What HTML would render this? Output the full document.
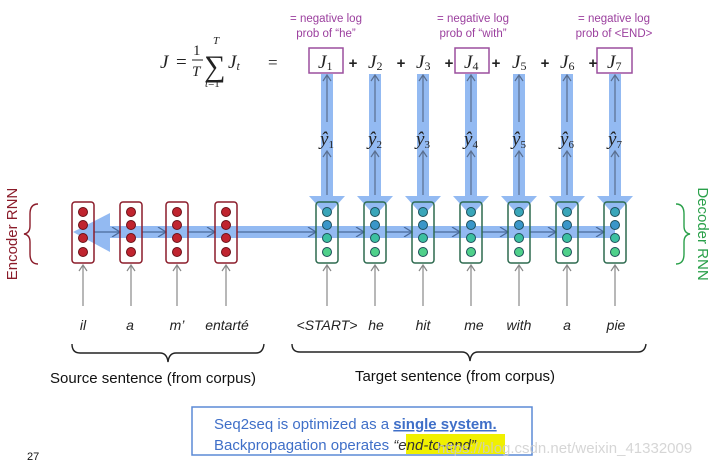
<!DOCTYPE html>
<html><head><meta charset="utf-8"><style>
body{margin:0;background:#fff;}
svg{display:block;font-family:"Liberation Sans",sans-serif;}
.m{font-family:"Liberation Serif",serif;font-style:italic;font-size:19px;fill:#222;}
.p{font-size:11.5px;fill:#9b3f9e;text-anchor:middle;}
.w{font-size:14px;font-style:italic;fill:#222;text-anchor:middle;}
</style></head><body>
<svg width="715" height="466" viewBox="0 0 715 466">
<defs>
<marker id="ga" markerWidth="8" markerHeight="8" refX="4" refY="1" orient="auto-start-reverse" markerUnits="userSpaceOnUse">
<path d="M0,6 L4,0 L8,6" fill="none" stroke="#777" stroke-width="1.2"/></marker>
<marker id="ba" markerWidth="10" markerHeight="10" refX="9" refY="5" orient="auto" markerUnits="userSpaceOnUse">
<path d="M1,0 L9,5 L1,10" fill="none" stroke="#4a6a9a" stroke-width="1.3"/></marker>
</defs>
<!-- blue backprop bands -->
<g fill="#6fa3ee" opacity="0.75">
<rect x="100" y="226" width="515" height="12"/>
<polygon points="73,232 110,213 110,252"/>
<g id="vb">
</g>
</g>
<g fill="#6fa3ee" opacity="0.75">
<rect x="321" y="74" width="12" height="124"/><polygon points="309,196 345,196 327,216"/>
<rect x="369" y="74" width="12" height="124"/><polygon points="357,196 393,196 375,216"/>
<rect x="417" y="74" width="12" height="124"/><polygon points="405,196 441,196 423,216"/>
<rect x="465" y="74" width="12" height="124"/><polygon points="453,196 489,196 471,216"/>
<rect x="513" y="74" width="12" height="124"/><polygon points="501,196 537,196 519,216"/>
<rect x="561" y="74" width="12" height="124"/><polygon points="549,196 585,196 567,216"/>
<rect x="609" y="74" width="12" height="124"/><polygon points="597,196 633,196 615,216"/>
</g>
<!-- horizontal arrows -->
<g stroke="#4a6a9a" stroke-width="1.3" marker-end="url(#ba)">
<line x1="94" y1="232" x2="120" y2="232"/><line x1="142" y1="232" x2="166" y2="232"/>
<line x1="188" y1="232" x2="215" y2="232"/><line x1="237" y1="232" x2="316" y2="232"/>
<line x1="338" y1="232" x2="364" y2="232"/><line x1="386" y1="232" x2="412" y2="232"/>
<line x1="434" y1="232" x2="460" y2="232"/><line x1="482" y1="232" x2="508" y2="232"/>
<line x1="530" y1="232" x2="556" y2="232"/><line x1="578" y1="232" x2="604" y2="232"/>
</g>
<!-- encoder cells -->
<g stroke="#8b1c2a" stroke-width="1.5" fill="none">
<rect x="72" y="202" width="22" height="61" rx="3"/><rect x="120" y="202" width="22" height="61" rx="3"/>
<rect x="166" y="202" width="22" height="61" rx="3"/><rect x="215" y="202" width="22" height="61" rx="3"/>
</g>
<g fill="#c0242f" stroke="#6b1018" stroke-width="1">
<circle cx="83" cy="212" r="4.5"/><circle cx="83" cy="225" r="4.5"/><circle cx="83" cy="238" r="4.5"/><circle cx="83" cy="252" r="4.5"/>
<circle cx="131" cy="212" r="4.5"/><circle cx="131" cy="225" r="4.5"/><circle cx="131" cy="238" r="4.5"/><circle cx="131" cy="252" r="4.5"/>
<circle cx="177" cy="212" r="4.5"/><circle cx="177" cy="225" r="4.5"/><circle cx="177" cy="238" r="4.5"/><circle cx="177" cy="252" r="4.5"/>
<circle cx="226" cy="212" r="4.5"/><circle cx="226" cy="225" r="4.5"/><circle cx="226" cy="238" r="4.5"/><circle cx="226" cy="252" r="4.5"/>
</g>
<!-- decoder cells -->
<g id="dec">
<g stroke="#2d6a4f" stroke-width="1.5" fill="none">
<rect x="316" y="202" width="22" height="61" rx="3"/><rect x="364" y="202" width="22" height="61" rx="3"/>
<rect x="412" y="202" width="22" height="61" rx="3"/><rect x="460" y="202" width="22" height="61" rx="3"/>
<rect x="508" y="202" width="22" height="61" rx="3"/><rect x="556" y="202" width="22" height="61" rx="3"/>
<rect x="604" y="202" width="22" height="61" rx="3"/>
</g>
</g>
<g stroke="#1d4f5a" stroke-width="1">
<g transform="translate(327,0)"><circle cy="212" r="4.5" fill="#3aa6b9"/><circle cy="225" r="4.5" fill="#3a96c9"/><circle cy="238" r="4.5" fill="#3cc0a0"/><circle cy="252" r="4.5" fill="#4fd08a"/></g>
<g transform="translate(375,0)"><circle cy="212" r="4.5" fill="#3aa6b9"/><circle cy="225" r="4.5" fill="#3a96c9"/><circle cy="238" r="4.5" fill="#3cc0a0"/><circle cy="252" r="4.5" fill="#4fd08a"/></g>
<g transform="translate(423,0)"><circle cy="212" r="4.5" fill="#3aa6b9"/><circle cy="225" r="4.5" fill="#3a96c9"/><circle cy="238" r="4.5" fill="#3cc0a0"/><circle cy="252" r="4.5" fill="#4fd08a"/></g>
<g transform="translate(471,0)"><circle cy="212" r="4.5" fill="#3aa6b9"/><circle cy="225" r="4.5" fill="#3a96c9"/><circle cy="238" r="4.5" fill="#3cc0a0"/><circle cy="252" r="4.5" fill="#4fd08a"/></g>
<g transform="translate(519,0)"><circle cy="212" r="4.5" fill="#3aa6b9"/><circle cy="225" r="4.5" fill="#3a96c9"/><circle cy="238" r="4.5" fill="#3cc0a0"/><circle cy="252" r="4.5" fill="#4fd08a"/></g>
<g transform="translate(567,0)"><circle cy="212" r="4.5" fill="#3aa6b9"/><circle cy="225" r="4.5" fill="#3a96c9"/><circle cy="238" r="4.5" fill="#3cc0a0"/><circle cy="252" r="4.5" fill="#4fd08a"/></g>
<g transform="translate(615,0)"><circle cy="212" r="4.5" fill="#3aa6b9"/><circle cy="225" r="4.5" fill="#3a96c9"/><circle cy="238" r="4.5" fill="#3cc0a0"/><circle cy="252" r="4.5" fill="#4fd08a"/></g>
</g>
<!-- vertical gray/blue arrows in decoder -->
<g stroke="#5a6f90" stroke-width="1.2" fill="none">
<path d="M327,195 V152 M323,157 L327,151 L331,157 M327,122 V76 M323,81 L327,75 L331,81"/>
<path d="M375,195 V152 M371,157 L375,151 L379,157 M375,122 V76 M371,81 L375,75 L379,81"/>
<path d="M423,195 V152 M419,157 L423,151 L427,157 M423,122 V76 M419,81 L423,75 L427,81"/>
<path d="M471,195 V152 M467,157 L471,151 L475,157 M471,122 V76 M467,81 L471,75 L475,81"/>
<path d="M519,195 V152 M515,157 L519,151 L523,157 M519,122 V76 M515,81 L519,75 L523,81"/>
<path d="M567,195 V152 M563,157 L567,151 L571,157 M567,122 V76 M563,81 L567,75 L571,81"/>
<path d="M615,195 V152 M611,157 L615,151 L619,157 M615,122 V76 M611,81 L615,75 L619,81"/>
</g>
<!-- input arrows -->
<g stroke="#888" stroke-width="1.2" fill="none">
<path d="M83,306 V266 M79,271 L83,265 L87,271"/><path d="M131,306 V266 M127,271 L131,265 L135,271"/>
<path d="M177,306 V266 M173,271 L177,265 L181,271"/><path d="M226,306 V266 M222,271 L226,265 L230,271"/>
<path d="M327,306 V266 M323,271 L327,265 L331,271"/><path d="M375,306 V266 M371,271 L375,265 L379,271"/>
<path d="M423,306 V266 M419,271 L423,265 L427,271"/><path d="M471,306 V266 M467,271 L471,265 L475,271"/>
<path d="M519,306 V266 M515,271 L519,265 L523,271"/><path d="M567,306 V266 M563,271 L567,265 L571,271"/>
<path d="M615,306 V266 M611,271 L615,265 L619,271"/>
</g>
<!-- y hats -->
<g class="m" font-size="16">
<text x="320" y="145">ŷ<tspan font-size="11" font-style="normal" dy="3">1</tspan></text>
<text x="368" y="145">ŷ<tspan font-size="11" font-style="normal" dy="3">2</tspan></text>
<text x="416" y="145">ŷ<tspan font-size="11" font-style="normal" dy="3">3</tspan></text>
<text x="464" y="145">ŷ<tspan font-size="11" font-style="normal" dy="3">4</tspan></text>
<text x="512" y="145">ŷ<tspan font-size="11" font-style="normal" dy="3">5</tspan></text>
<text x="560" y="145">ŷ<tspan font-size="11" font-style="normal" dy="3">6</tspan></text>
<text x="608" y="145">ŷ<tspan font-size="11" font-style="normal" dy="3">7</tspan></text>
</g>
<!-- J row -->
<g stroke="#9b4f9e" stroke-width="1.5" fill="#fff">
<rect x="309" y="48" width="34" height="25"/><rect x="455" y="48" width="34" height="25"/><rect x="597" y="48" width="35" height="25"/>
</g>
<g class="m">
<text x="318" y="68">J<tspan font-size="12" font-style="normal" dy="2">1</tspan></text>
<text x="368" y="68">J<tspan font-size="12" font-style="normal" dy="2">2</tspan></text>
<text x="416" y="68">J<tspan font-size="12" font-style="normal" dy="2">3</tspan></text>
<text x="464" y="68">J<tspan font-size="12" font-style="normal" dy="2">4</tspan></text>
<text x="512" y="68">J<tspan font-size="12" font-style="normal" dy="2">5</tspan></text>
<text x="560" y="68">J<tspan font-size="12" font-style="normal" dy="2">6</tspan></text>
<text x="607" y="68">J<tspan font-size="12" font-style="normal" dy="2">7</tspan></text>
</g>
<g font-size="15" font-weight="bold" fill="#222" text-anchor="middle">
<text x="353" y="68">+</text><text x="401" y="68">+</text><text x="449" y="68">+</text><text x="496" y="68">+</text>
<text x="545" y="68">+</text><text x="593" y="68">+</text>
</g>
<!-- equation -->
<g class="m">
<text x="160" y="68">J</text>
<text x="176" y="68" font-style="normal">=</text>
<text x="193" y="55" font-style="normal" font-size="15">1</text>
<line x1="192" y1="60" x2="203" y2="60" stroke="#222" stroke-width="1"/>
<text x="192" y="76" font-size="15">T</text>
<text x="204" y="76" font-style="normal" font-size="30">∑</text>
<text x="213" y="44" font-size="11">T</text>
<text x="205" y="87" font-size="11">t<tspan font-style="normal">=1</tspan></text>
<text x="228" y="68">J<tspan font-size="12" dy="2">t</tspan></text>
<text x="268" y="68" font-style="normal" font-size="17">=</text>
</g>
<!-- purple labels -->
<text class="p" x="326" y="22">= negative log</text><text class="p" x="326" y="37">prob of “he”</text>
<text class="p" x="473" y="22">= negative log</text><text class="p" x="473" y="37">prob of “with”</text>
<text class="p" x="614" y="22">= negative log</text><text class="p" x="614" y="37">prob of &lt;END&gt;</text>
<!-- words -->
<text class="w" x="83" y="330">il</text><text class="w" x="130" y="330">a</text><text class="w" x="177" y="330">m’</text><text class="w" x="227" y="330">entarté</text>
<text class="w" x="327" y="330">&lt;START&gt;</text><text class="w" x="376" y="330">he</text><text class="w" x="423" y="330">hit</text>
<text class="w" x="474" y="330">me</text><text class="w" x="519" y="330">with</text><text class="w" x="567" y="330">a</text><text class="w" x="616" y="330">pie</text>
<!-- braces -->
<g stroke="#222" stroke-width="1.4" fill="none">
<path d="M72,344 Q72,353 80,353 L160,353 Q167,353 168,362 Q169,353 176,353 L256,353 Q263,353 264,344"/>
<path d="M292,344 Q292,352 300,352 L462,352 Q469,352 470,361 Q471,352 478,352 L638,352 Q645,352 646,344"/>
<path d="M38,204 Q30,204 30,214 L30,226 Q30,233 24,234 Q30,235 30,242 L30,254 Q30,264 38,264" stroke="#8b1c2a"/>
<path d="M676,204 Q684,204 684,214 L684,226 Q684,233 690,234 Q684,235 684,242 L684,254 Q684,264 676,264" stroke="#2aa04a"/>
</g>
<text x="153" y="383" font-size="15" fill="#111" text-anchor="middle">Source sentence (from corpus)</text>
<text x="455" y="381" font-size="15" fill="#111" text-anchor="middle">Target sentence (from corpus)</text>
<text transform="translate(17,234) rotate(-90)" font-size="15" fill="#8b1c2a" text-anchor="middle">Encoder RNN</text>
<text transform="translate(698,234) rotate(90)" font-size="15" fill="#2aa04a" text-anchor="middle">Decoder RNN</text>
<!-- box -->
<rect x="192" y="407" width="340" height="48" fill="#fff" stroke="#5b8ad6" stroke-width="1.5"/>
<rect x="406" y="434" width="99" height="20" fill="#f0f000"/>
<text x="214" y="429" font-size="15" fill="#3f6fc8">Seq2seq is optimized as a <tspan font-weight="bold" text-decoration="underline">single system.</tspan></text>
<text x="214" y="450" font-size="15" fill="#3f6fc8">Backpropagation operates <tspan font-style="italic" fill="#333">“end-to-end”</tspan></text>
<text x="437" y="453" font-size="15" fill="#ccc" opacity="0.8">https://blog.csdn.net/weixin_41332009</text>
<text x="27" y="460" font-size="11" fill="#111">27</text>
</svg>
</body></html>
